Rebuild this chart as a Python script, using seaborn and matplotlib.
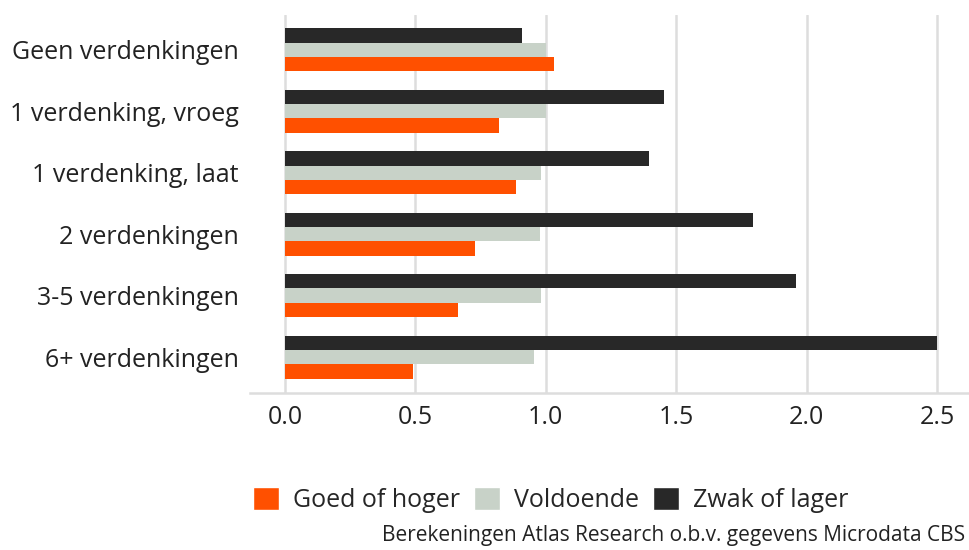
import matplotlib
matplotlib.use("Agg")
import matplotlib.pyplot as plt
from matplotlib.patches import Patch
import pandas as pd
import seaborn as sns

categories = ["Geen verdenkingen", "1 verdenking, vroeg", "1 verdenking, laat",
              "2 verdenkingen", "3-5 verdenkingen", "6+ verdenkingen"]
goed = [1.03, 0.82, 0.885, 0.73, 0.665, 0.49]
voldoende = [1.0, 1.0, 0.98, 0.978, 0.98, 0.955]
zwak = [0.91, 1.455, 1.395, 1.795, 1.96, 2.5]

series = ["Goed of hoger", "Voldoende", "Zwak of lager"]
COLORS = {"Goed of hoger": "#FF5000", "Voldoende": "#C8D2C8", "Zwak of lager": "#282828"}

df = pd.DataFrame({
    "cat": categories * 3,
    "val": goed + voldoende + zwak,
    "serie": [series[0]] * 6 + [series[1]] * 6 + [series[2]] * 6,
})

sns.set_style("white")
plt.rcParams["font.family"] = ["Open Sans", "DejaVu Sans"]

fig = plt.figure(figsize=(9.69, 5.5), dpi=100)
ax = fig.add_axes([0.258, 0.2855, 0.742, 0.6875])

# hue order reversed so "Zwak" sits on top within each group
sns.barplot(data=df, y="cat", x="val", hue="serie", order=categories,
            hue_order=series[::-1], palette=COLORS, orient="h",
            width=0.7, linewidth=0, saturation=1, legend=False, ax=ax)

ax.set_xlim(-0.134, 2.623)
ax.set_ylim(5.585, -0.57)
ax.set_xticks([0, 0.5, 1.0, 1.5, 2.0, 2.5])
ax.set_xticklabels(["0.0", "0.5", "1.0", "1.5", "2.0", "2.5"])
ax.grid(axis="x", color="#DDDDDD", lw=1.8)
ax.set_axisbelow(True)
for s in ["top", "right", "left"]:
    ax.spines[s].set_visible(False)
ax.spines["bottom"].set_color("#DDDDDD")
ax.spines["bottom"].set_linewidth(1.8)
ax.tick_params(axis="both", colors="#DDDDDD", labelcolor="#222222",
               length=5, width=1.5)
ax.tick_params(axis="x", labelsize=18, pad=4)
ax.tick_params(axis="y", labelsize=18, pad=3)
ax.set_xlabel("")
ax.set_ylabel("")

handles = [Patch(facecolor=COLORS[s], label=s) for s in series]
fig.legend(handles=handles, loc="center", bbox_to_anchor=(0.568, 0.091), ncol=3,
           frameon=False, fontsize=18, handlelength=1.04, handleheight=1.04,
           handletextpad=0.56, columnspacing=0.56)

fig.text(0.996, 0.027, "Berekeningen Atlas Research o.b.v. gegevens Microdata CBS",
         ha="right", va="center", fontsize=15, color="#222222")

fig.savefig("out.png", dpi=100)
